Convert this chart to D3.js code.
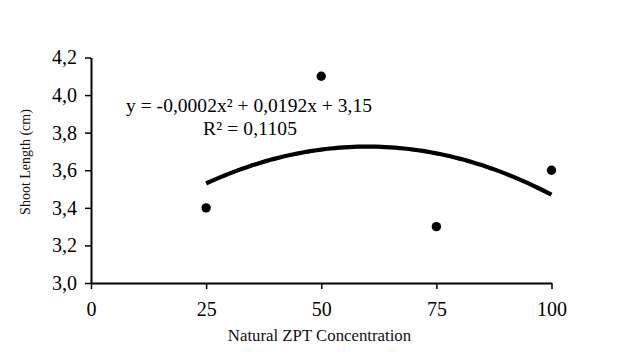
<!DOCTYPE html>
<html>
<head>
<meta charset="utf-8">
<script src="https://cdn.jsdelivr.net/npm/d3@7"></script>
<style>
  body { margin: 0; background: #fff; }
  svg { display: block; }
</style>
</head>
<body>
<script>
// data
const concentration = [25, 50, 75, 100];
const shootLength = [3.4, 4.1, 3.3, 3.6];
const xTicks = [0, 25, 50, 75, 100];
const yTicks = [3.0, 3.2, 3.4, 3.6, 3.8, 4.0, 4.2];
const equationText = "y = -0,0002x² + 0,0192x + 3,15";
const r2Text = "R² = 0,1105";
const xTitle = "Natural ZPT Concentration";
const yTitle = "Shoot Length (cm)";

const width = 621, height = 356;
const svg = d3.select("body").append("svg")
    .attr("width", width)
    .attr("height", height);

svg.append("rect").attr("width", width).attr("height", height).attr("fill", "#fff");

const x = d3.scaleLinear().domain([0, 100]).range([91, 551.5]);
const y = d3.scaleLinear().domain([3.0, 4.2]).range([283, 57.5]);

const fmt = d => d3.format(".1f")(d).replace(".", ",");

// x axis
const xAxis = svg.append("g")
    .attr("transform", `translate(0,${y(3.0)})`)
    .call(d3.axisBottom(x).tickValues(xTicks).tickSize(6).tickSizeOuter(0).tickPadding(13));
// y axis
const yAxis = svg.append("g")
    .attr("transform", `translate(${x(0)},0)`)
    .call(d3.axisLeft(y).tickValues(yTicks).tickFormat(fmt).tickSize(6).tickSizeOuter(0).tickPadding(8));

[xAxis, yAxis].forEach(g => {
    g.select(".domain").attr("stroke", "#000").attr("stroke-width", 2);
    g.selectAll(".tick line").attr("stroke", "#000").attr("stroke-width", 1.5);
    g.selectAll(".tick text")
        .attr("fill", "#000")
        .style("font-family", "'Liberation Serif', serif")
        .style("font-size", "20px");
});

// quadratic least squares trendline (like the spreadsheet trendline)
function fitQuadratic(xs, ys) {
    const s = [0, 0, 0, 0, 0], t = [0, 0, 0];
    xs.forEach((xv, i) => {
        for (let k = 0; k < 5; k++) s[k] += Math.pow(xv, k);
        for (let k = 0; k < 3; k++) t[k] += Math.pow(xv, k) * ys[i];
    });
    const m = [[s[0], s[1], s[2], t[0]], [s[1], s[2], s[3], t[1]], [s[2], s[3], s[4], t[2]]];
    for (let c = 0; c < 3; c++) {
        for (let r = c + 1; r < 3; r++) {
            const f = m[r][c] / m[c][c];
            for (let k = c; k < 4; k++) m[r][k] -= f * m[c][k];
        }
    }
    const sol = [0, 0, 0];
    for (let r = 2; r >= 0; r--) {
        let v = m[r][3];
        for (let k = r + 1; k < 3; k++) v -= m[r][k] * sol[k];
        sol[r] = v / m[r][r];
    }
    return sol; // a0, a1, a2
}
const coef = fitQuadratic(concentration, shootLength);
const trendX = d3.range(d3.min(concentration), d3.max(concentration) + 0.01, 1);
const trend = trendX.map(v => [v, coef[0] + coef[1] * v + coef[2] * v * v]);

svg.append("path")
    .datum(trend)
    .attr("fill", "none")
    .attr("stroke", "#000")
    .attr("stroke-width", 4.2)
    .attr("d", d3.line().x(d => x(d[0])).y(d => y(d[1])).curve(d3.curveMonotoneX));

// points
svg.selectAll(".pt")
    .data(concentration)
    .enter()
    .append("circle")
    .attr("class", "pt")
    .attr("cx", d => x(d))
    .attr("cy", (d, i) => y(shootLength[i]))
    .attr("r", 4.7)
    .attr("fill", "#000");

// equation labels
svg.append("text")
    .attr("x", 126)
    .attr("y", 112)
    .attr("textLength", 246)
    .attr("lengthAdjust", "spacing")
    .style("font-family", "'Liberation Serif', serif")
    .style("font-size", "19.5px")
    .attr("fill", "#000")
    .text(equationText);
svg.append("text")
    .attr("x", 203)
    .attr("y", 135)
    .attr("textLength", 94)
    .attr("lengthAdjust", "spacing")
    .style("font-family", "'Liberation Serif', serif")
    .style("font-size", "19.5px")
    .attr("fill", "#000")
    .text(r2Text);

// axis titles
svg.append("text")
    .attr("x", 319.5)
    .attr("y", 341)
    .attr("text-anchor", "middle")
    .style("font-family", "'Liberation Serif', serif")
    .style("font-size", "16.8px")
    .attr("fill", "#111")
    .text(xTitle);
svg.append("text")
    .attr("transform", "translate(30,162) rotate(-90)")
    .attr("text-anchor", "middle")
    .style("font-family", "'Liberation Serif', serif")
    .style("font-size", "14px")
    .attr("fill", "#111")
    .text(yTitle);
</script>
</body>
</html>
